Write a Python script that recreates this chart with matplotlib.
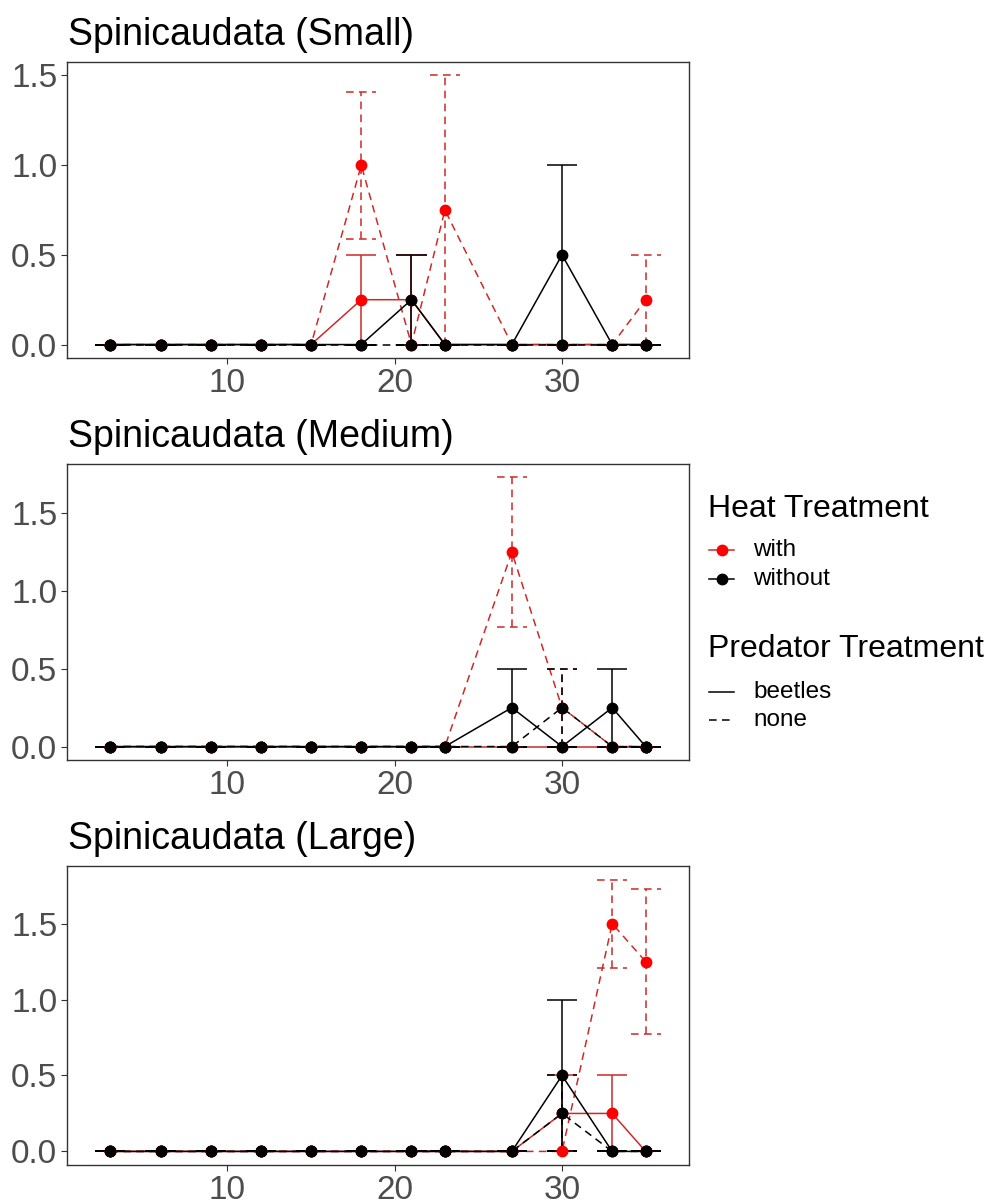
import matplotlib
matplotlib.use("Agg")
import matplotlib.pyplot as plt
from matplotlib.lines import Line2D
import numpy as np

plt.rcParams['font.family'] = ['Liberation Sans', 'DejaVu Sans']

days = [3, 6, 9, 12, 15, 18, 21, 23, 27, 30, 33, 35]

# Small
small_with_beetles = [0, 0, 0, 0, 0, 0.25, 0.25, 0, 0, 0, 0, 0]
small_with_beetles_se = [0, 0, 0, 0, 0, 0.25, 0.25, 0, 0, 0, 0, 0]
small_with_none = [0, 0, 0, 0, 0, 1.0, 0, 0.75, 0, 0, 0, 0.25]
small_with_none_se = [0, 0, 0, 0, 0, 0.41, 0, 0.75, 0, 0, 0, 0.25]
small_without_beetles = [0, 0, 0, 0, 0, 0, 0.25, 0, 0, 0.5, 0, 0]
small_without_beetles_se = [0, 0, 0, 0, 0, 0, 0.25, 0, 0, 0.5, 0, 0]
small_without_none = [0, 0, 0, 0, 0, 0, 0, 0, 0, 0, 0, 0]
small_without_none_se = [0, 0, 0, 0, 0, 0, 0, 0, 0, 0, 0, 0]

# Medium
medium_with_beetles = [0, 0, 0, 0, 0, 0, 0, 0, 0, 0, 0, 0]
medium_with_beetles_se = [0, 0, 0, 0, 0, 0, 0, 0, 0, 0, 0, 0]
medium_with_none = [0, 0, 0, 0, 0, 0, 0, 0, 1.25, 0.25, 0, 0]
medium_with_none_se = [0, 0, 0, 0, 0, 0, 0, 0, 0.48, 0.25, 0, 0]
medium_without_beetles = [0, 0, 0, 0, 0, 0, 0, 0, 0.25, 0, 0.25, 0]
medium_without_beetles_se = [0, 0, 0, 0, 0, 0, 0, 0, 0.25, 0, 0.25, 0]
medium_without_none = [0, 0, 0, 0, 0, 0, 0, 0, 0, 0.25, 0, 0]
medium_without_none_se = [0, 0, 0, 0, 0, 0, 0, 0, 0, 0.25, 0, 0]

# Large
large_with_beetles = [0, 0, 0, 0, 0, 0, 0, 0, 0, 0.25, 0.25, 0]
large_with_beetles_se = [0, 0, 0, 0, 0, 0, 0, 0, 0, 0.25, 0.25, 0]
large_with_none = [0, 0, 0, 0, 0, 0, 0, 0, 0, 0, 1.5, 1.25]
large_with_none_se = [0, 0, 0, 0, 0, 0, 0, 0, 0, 0, 0.29, 0.48]
large_without_beetles = [0, 0, 0, 0, 0, 0, 0, 0, 0, 0.5, 0, 0]
large_without_beetles_se = [0, 0, 0, 0, 0, 0, 0, 0, 0, 0.5, 0, 0]
large_without_none = [0, 0, 0, 0, 0, 0, 0, 0, 0, 0.25, 0, 0]
large_without_none_se = [0, 0, 0, 0, 0, 0, 0, 0, 0, 0.25, 0, 0]

titles = ["Spinicaudata (Small)", "Spinicaudata (Medium)", "Spinicaudata (Large)"]
panels = [
    [(small_with_beetles, small_with_beetles_se, "red", "solid"),
     (small_with_none, small_with_none_se, "red", "dashed"),
     (small_without_beetles, small_without_beetles_se, "black", "solid"),
     (small_without_none, small_without_none_se, "black", "dashed")],
    [(medium_with_beetles, medium_with_beetles_se, "red", "solid"),
     (medium_with_none, medium_with_none_se, "red", "dashed"),
     (medium_without_beetles, medium_without_beetles_se, "black", "solid"),
     (medium_without_none, medium_without_none_se, "black", "dashed")],
    [(large_with_beetles, large_with_beetles_se, "red", "solid"),
     (large_with_none, large_with_none_se, "red", "dashed"),
     (large_without_beetles, large_without_beetles_se, "black", "solid"),
     (large_without_none, large_without_none_se, "black", "dashed")],
]

W, H = 1001, 1201
fig = plt.figure(figsize=(W / 100, H / 100), dpi=100)

def fx(px):
    return px / W

def fy(py):
    return 1 - py / H

dash = (0, (5, 3.5))
cap = 0.9
line_red = "#cc2a2a"

# panel boxes in pixels: left, top, right, bottom
boxes = [(67, 62, 689, 358), (67, 464, 689, 760), (67, 866, 689, 1165)]

for (l, t, r, b), title, groups in zip(boxes, titles, panels):
    ax = fig.add_axes([fx(l), fy(b), fx(r) - fx(l), fy(t) - fy(b)])
    x = np.array(days)
    ymax = 0
    for mean, se, col, ls in groups:
        m = np.array(mean)
        s = np.array(se)
        ymax = max(ymax, (m + s).max())
        lc = line_red if col == "red" else "black"
        style = dash if ls == "dashed" else "solid"
        ax.vlines(x, m - s, m + s, colors=lc, linestyles=style, lw=1.1, zorder=2)
        ax.hlines(m - s, x - cap, x + cap, colors=lc, linestyles=style, lw=1.1, zorder=2)
        ax.hlines(m + s, x - cap, x + cap, colors=lc, linestyles=style, lw=1.1, zorder=2)
        ax.plot(x, m, color=lc, linestyle=style, lw=1.1, zorder=2)
    for mean, se, col, ls in groups:
        ax.plot(days, mean, linestyle="none", marker="o", ms=7.5,
                color=col, mec=col, zorder=3)

    xlo, xhi = min(days) - cap, max(days) + cap
    xr = xhi - xlo
    ax.set_xlim(xlo - 0.05 * xr, xhi + 0.05 * xr)
    ax.set_ylim(-0.05 * ymax, ymax * 1.05)
    ax.set_xticks([10, 20, 30])
    ax.set_yticks([0, 0.5, 1.0, 1.5])
    ax.set_yticklabels(["0.0", "0.5", "1.0", "1.5"])
    ax.tick_params(labelsize=24, labelcolor="#4D4D4D", color="#333333",
                   length=4, width=0.8, pad=3)
    for sp in ax.spines.values():
        sp.set_color("#333333")
        sp.set_linewidth(1.0)
    fig.text(fx(68), fy(t - 17), title, fontsize=27, va="baseline", ha="left")

# legend
fig.text(fx(708), fy(517), "Heat Treatment", fontsize=23, va="baseline")
for yy, col, lab in [(550, "red", "with"), (579, "black", "without")]:
    fig.add_artist(Line2D([fx(709), fx(734)], [fy(yy), fy(yy)],
                          color=line_red if col == "red" else "black", lw=1.1))
    fig.add_artist(Line2D([fx(721.5)], [fy(yy)], marker="o", ms=7.5,
                          color=col, linestyle="none"))
    fig.text(fx(753), fy(yy), lab, fontsize=17.5, va="center")
fig.text(fx(708), fy(657), "Predator Treatment", fontsize=23, va="baseline")
for yy, style, lab in [(692, "solid", "beetles"), (720, dash, "none")]:
    fig.add_artist(Line2D([fx(709), fx(734)], [fy(yy), fy(yy)],
                          color="black", lw=1.1, linestyle=style))
    fig.text(fx(753), fy(yy), lab, fontsize=17.5, va="center")

fig.savefig("out.png", dpi=100)
